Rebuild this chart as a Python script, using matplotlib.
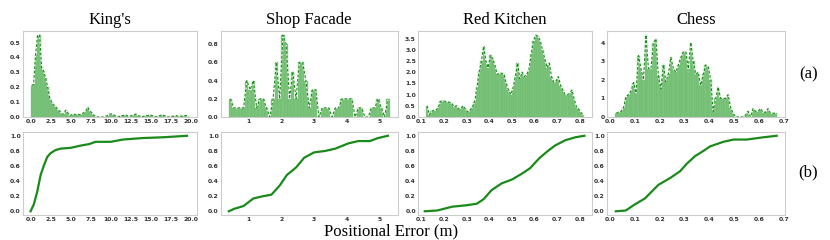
"""
Positional error histograms (a) and CDFs (b) for four scenes.
"""

from matplotlib import pyplot as plt
import numpy as np

titles = ["King's", "Shop Facade", "Red Kitchen", "Chess"]

# histogram bins: start, width, heights
kings_start, kings_width = 0.0, 0.25
kings_hist = [0.21, 0.22, 0.42, 0.55, 0.55, 0.33, 0.31, 0.26, 0.2, 0.13,
              0.1, 0.08, 0.07, 0.05, 0.04, 0.02, 0.02, 0.045, 0.03, 0.01,
              0.015, 0.02, 0.015, 0.02, 0.015, 0.02, 0.03, 0.04, 0.065, 0.04,
              0.03, 0.01, 0.005, 0.0, 0.0, 0.0, 0.0, 0.005, 0.01, 0.02,
              0.02, 0.015, 0.005, 0.0, 0.005, 0.01, 0.01, 0.015, 0.005, 0.005,
              0.01, 0.015, 0.02, 0.01, 0.005, 0.0, 0.005, 0.01, 0.01, 0.015,
              0.01, 0.005, 0.0, 0.005, 0.01, 0.015, 0.01, 0.005, 0.0, 0.0,
              0.005, 0.005, 0.01, 0.005, 0.005, 0.005, 0.01, 0.01, 0.005]

shop_start, shop_width = 0.4, 0.1
shop_hist = [0.2, 0.1, 0.1, 0.1, 0.1, 0.4, 0.3, 0.4, 0.1, 0.2,
             0.2, 0.1, 0.0, 0.2, 0.6, 0.2, 0.9, 0.8, 0.2, 0.5,
             0.2, 0.6, 0.6, 0.4, 0.1, 0.3, 0.3, 0.0, 0.1, 0.1,
             0.1, 0.0, 0.1, 0.1, 0.2, 0.2, 0.2, 0.2, 0.0, 0.1,
             0.1, 0.0, 0.0, 0.1, 0.1, 0.2, 0.1, 0.0, 0.2]

kitchen_start, kitchen_width = 0.12, 0.01
kitchen_hist = [0.5, 0.1, 0.25, 0.3, 0.3, 0.45, 0.7, 0.72, 0.7, 0.68,
                0.65, 0.6, 0.45, 0.5, 0.35, 0.4, 0.5, 0.35, 0.22, 0.3,
                0.45, 0.65, 1.3, 2.0, 2.5, 3.15, 2.5, 2.2, 2.75, 2.6,
                2.3, 1.9, 1.95, 1.95, 1.9, 1.5, 1.2, 1.0, 1.3, 1.8,
                2.4, 1.7, 2.0, 1.8, 1.9, 2.1, 2.8, 3.4, 3.65, 3.6,
                3.4, 3.0, 2.6, 2.2, 2.4, 1.8, 1.55, 1.6, 1.8, 1.4,
                1.2, 1.0, 1.0, 1.05, 1.2, 0.8, 0.45, 0.35, 0.2, 0.1]

chess_start, chess_width = 0.02, 0.01
chess_hist = [0.2, 0.25, 0.3, 0.5, 1.1, 1.2, 1.4, 1.85, 1.3, 3.3,
              2.6, 2.0, 4.4, 2.6, 2.6, 4.0, 4.2, 2.2, 1.5, 2.8,
              1.9, 2.3, 3.2, 2.6, 2.4, 2.8, 3.2, 3.5, 3.5, 2.6,
              4.0, 3.0, 2.3, 2.4, 1.7, 2.3, 2.8, 2.7, 2.0, 0.3,
              1.0, 1.6, 1.0, 1.0, 1.0, 1.2, 0.5, 0.2, 0.0, 0.0,
              0.0, 0.0, 0.1, 0.3, 0.0, 0.45, 0.3, 0.3, 0.45, 0.25,
              0.25, 0.45, 0.2, 0.2, 0.2]

# cumulative curves
kings_cdf_x = [0.0, 0.4, 0.83, 1.25, 1.67, 2.08, 2.5, 3.1, 3.75, 5.0, 6.25,
               7.3, 8.1, 10.0, 11.5, 14.0, 16.5, 19.5]
kings_cdf_y = [0.0, 0.09, 0.26, 0.48, 0.61, 0.72, 0.77, 0.81, 0.83, 0.84, 0.87,
               0.89, 0.92, 0.92, 0.95, 0.97, 0.98, 1.0]
shop_cdf_x = [0.4, 0.55, 0.85, 1.15, 1.45, 1.7, 1.95, 2.17, 2.45, 2.7, 3.0,
              3.35, 3.65, 4.05, 4.35, 4.7, 4.95, 5.15, 5.25]
shop_cdf_y = [0.0, 0.03, 0.07, 0.17, 0.2, 0.22, 0.34, 0.48, 0.58, 0.71, 0.78,
              0.8, 0.83, 0.9, 0.93, 0.93, 0.97, 0.99, 1.0]
kitchen_cdf_x = [0.115, 0.17, 0.235, 0.3, 0.345, 0.375, 0.41, 0.455, 0.5, 0.545,
                 0.58, 0.62, 0.655, 0.69, 0.735, 0.78, 0.82]
kitchen_cdf_y = [0.0, 0.01, 0.06, 0.08, 0.1, 0.16, 0.28, 0.37, 0.42, 0.5,
                 0.57, 0.7, 0.79, 0.87, 0.94, 0.98, 1.0]
chess_cdf_x = [0.024, 0.064, 0.1, 0.141, 0.168, 0.195, 0.242, 0.282, 0.309, 0.342,
               0.376, 0.403, 0.456, 0.497, 0.55, 0.617, 0.67]
chess_cdf_y = [0.0, 0.01, 0.09, 0.17, 0.26, 0.35, 0.44, 0.53, 0.63, 0.73,
               0.8, 0.86, 0.92, 0.95, 0.95, 0.98, 1.0]

hists = [(kings_start, kings_width, kings_hist),
         (shop_start, shop_width, shop_hist),
         (kitchen_start, kitchen_width, kitchen_hist),
         (chess_start, chess_width, chess_hist)]
cdfs = [(kings_cdf_x, kings_cdf_y), (shop_cdf_x, shop_cdf_y),
        (kitchen_cdf_x, kitchen_cdf_y), (chess_cdf_x, chess_cdf_y)]

xticks = [np.arange(0, 20.1, 2.5), [1, 2, 3, 4, 5],
          np.arange(0.1, 0.81, 0.1), np.arange(0.0, 0.71, 0.1)]
xfmt = ["{:.1f}", "{:d}", "{:.1f}", "{:.1f}"]
yticks_top = [np.arange(0, 0.51, 0.1), np.arange(0, 0.81, 0.2),
              np.arange(0, 3.51, 0.5), [0, 1, 2, 3, 4]]
yfmt_top = ["{:.1f}", "{:.1f}", "{:.1f}", "{:d}"]

lefts = [0.0273, 0.266, 0.5036, 0.731]
widths = [0.21, 0.213, 0.21, 0.2145]

serif = "Liberation Serif"
bar_color = "#7cc47c"
line_color = "#1a8a1a"


def fmt(f, values):
    return [f.format(int(round(v))) if f == "{:d}" else f.format(v) for v in values]


def style(ax):
    for s in ax.spines.values():
        s.set_color("#cccccc")
        s.set_linewidth(0.8)
    ax.tick_params(length=0, pad=1.5, labelsize=4.4, labelcolor="#333333")
    for lab in ax.get_xticklabels() + ax.get_yticklabels():
        lab.set_fontweight("bold")


def _main():
    fig = plt.figure(figsize=(8.3, 2.4), dpi=100)

    for i in range(4):
        start, width, heights = hists[i]
        heights = np.array(heights)
        centers = start + width * (np.arange(len(heights)) + 0.5)

        ax = fig.add_axes([lefts[i], 0.5125, widths[i], 0.358])
        ax.bar(centers, heights, width=width, color=bar_color,
               edgecolor="#64b064", linewidth=0.2)
        ax.plot(centers, heights, color="white", lw=0.8)
        ax.plot(centers, heights, color=line_color, lw=0.8, ls=(0, (2.5, 1.5)))
        ax.set_xticks(xticks[i])
        ax.set_xticklabels(fmt(xfmt[i], xticks[i]))
        ax.set_yticks(yticks_top[i])
        ax.set_yticklabels(fmt(yfmt_top[i], yticks_top[i]))
        ax.set_title(titles[i], fontsize=12, family=serif, pad=5)
        style(ax)

        cx, cy = cdfs[i]
        ax2 = fig.add_axes([lefts[i], 0.104, widths[i], 0.346])
        ax2.plot(cx, cy, color=line_color, lw=1.6)
        ax2.set_xticks(xticks[i])
        ax2.set_xticklabels(fmt(xfmt[i], xticks[i]))
        ax2.set_yticks(np.arange(0, 1.01, 0.2))
        ax2.set_yticklabels(fmt("{:.1f}", np.arange(0, 1.01, 0.2)))
        ax2.set_xlim(ax.get_xlim())
        style(ax2)

    fig.text(0.974, 0.69, "(a)", fontsize=12, family=serif, ha="center", va="center")
    fig.text(0.974, 0.28, "(b)", fontsize=12, family=serif, ha="center", va="center")
    fig.text(0.471, 0.036, "Positional Error (m)", fontsize=12, family=serif,
             ha="center", va="center")

    fig.savefig("out.png", dpi=100)


if __name__ == "__main__":
    _main()
